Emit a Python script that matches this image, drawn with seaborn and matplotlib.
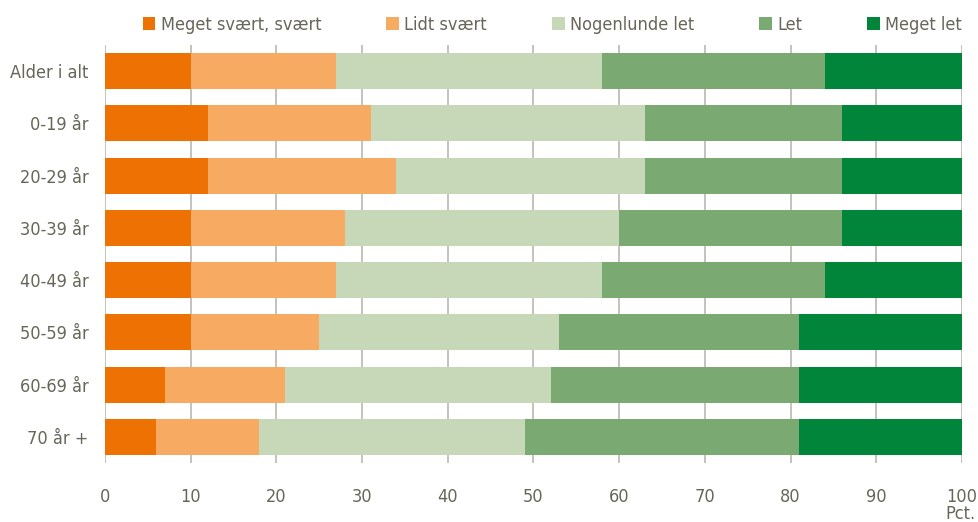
import matplotlib
matplotlib.use('Agg')
import matplotlib.pyplot as plt
import numpy as np
import pandas as pd
import seaborn as sns

# data (pct. shares per age group)
groups = ["Alder i alt", "0-19 år", "20-29 år", "30-39 år", "40-49 år", "50-59 år", "60-69 år", "70 år +"]
levels = ["Meget svært, svært", "Lidt svært", "Nogenlunde let", "Let", "Meget let"]
meget_svaert = [10, 12, 12, 10, 10, 10, 7, 6]
lidt_svaert = [17, 19, 22, 18, 17, 15, 14, 12]
nogenlunde_let = [31, 32, 29, 32, 31, 28, 31, 31]
let = [26, 23, 23, 26, 26, 28, 29, 32]
meget_let = [16, 14, 14, 14, 16, 19, 19, 19]

colors = ["#EE7203", "#F6AA62", "#C7D8B8", "#7AAA72", "#00853A"]
text_col = "#66665a"
grid_col = "#b3b3a8"

df = pd.DataFrame({
    "Alder": groups,
    levels[0]: meget_svaert,
    levels[1]: lidt_svaert,
    levels[2]: nogenlunde_let,
    levels[3]: let,
    levels[4]: meget_let,
})
cum = df[levels].cumsum(axis=1)
cum["Alder"] = groups

sns.set_style("white")
plt.rcParams['font.family'] = ['DejaVu Sans']
plt.rcParams['font.stretch'] = 'condensed'

fig = plt.figure(figsize=(9.79, 5.22), dpi=100)
ax = fig.add_axes([105 / 979, 1 - 463 / 522, (962 - 105) / 979, (463 - 45) / 522])

# stacked bars: draw cumulative totals from the right-most segment backwards
for lvl, col in reversed(list(zip(levels, colors))):
    sns.barplot(data=cum, x=lvl, y="Alder", color=col, saturation=1, width=0.69,
                orient="h", ax=ax, linewidth=0, label=lvl)

ax.set_xlim(0, 100)
ax.set_ylim(7.5, -0.5)
ax.set_xticks(np.arange(0, 101, 10))
ax.set_xlabel("")
ax.set_ylabel("")
ax.set_axisbelow(True)
ax.xaxis.grid(True, color=grid_col, linewidth=1.1)
ax.yaxis.grid(False)
for s in ax.spines.values():
    s.set_visible(False)
ax.tick_params(axis='x', length=0, pad=18, labelsize=13, labelcolor=text_col)
ax.tick_params(axis='y', length=0, pad=12, labelsize=13, labelcolor=text_col)

handles, labels = ax.get_legend_handles_labels()
order = [labels.index(l) for l in levels]
leg = ax.legend([handles[i] for i in order], [labels[i] for i in order],
                loc='center', bbox_to_anchor=(0.522, 1.048), ncol=5, frameon=False,
                fontsize=13, handlelength=0.7, handleheight=0.7, handletextpad=0.3,
                columnspacing=3.6, borderaxespad=0)
for t in leg.get_texts():
    t.set_color(text_col)

fig.text(976 / 979, 1 - 514 / 522, "Pct.", ha='right', va='center', fontsize=13, color=text_col)

fig.savefig("out.png", dpi=100)
plt.close(fig)
